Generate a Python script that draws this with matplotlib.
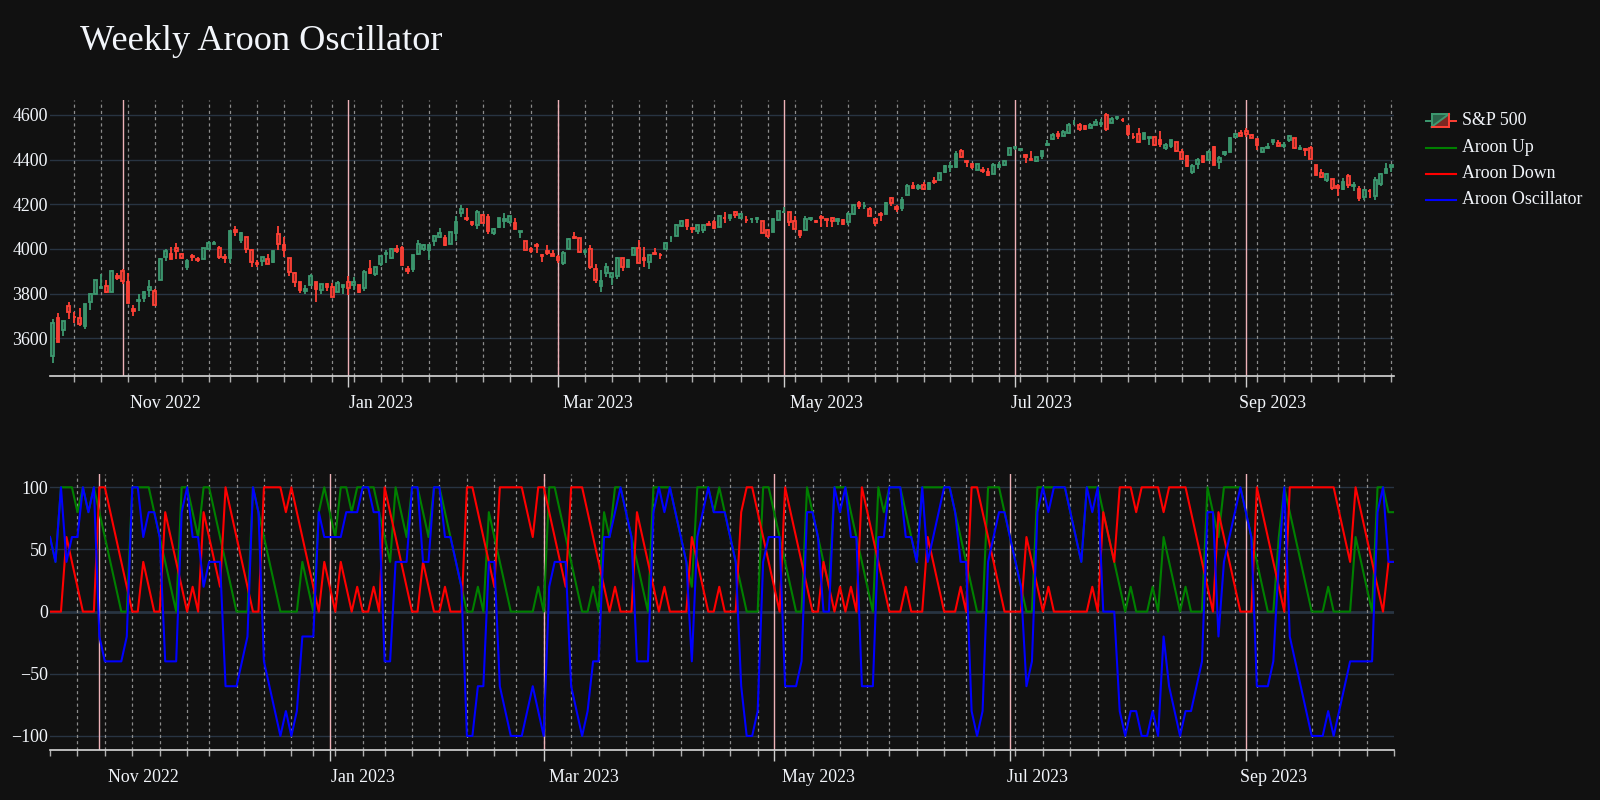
import numpy as np
import pandas as pd
import matplotlib
matplotlib.use("Agg")
import matplotlib.pyplot as plt
from matplotlib.lines import Line2D
from matplotlib.patches import Polygon
from matplotlib.transforms import blended_transform_factory

plt.rcParams['font.family'] = ['Liberation Serif', 'DejaVu Serif']

# ---------------- data ----------------
holidays = ['2022-11-24', '2022-12-26', '2023-01-02', '2023-01-16', '2023-02-20',
            '2023-04-07', '2023-05-29', '2023-06-19', '2023-07-04', '2023-09-04']
dates = pd.bdate_range('2022-10-13', '2023-10-11', freq='C', holidays=holidays)

opens = [3520,3690,3638,3746,3696,3689,3657,3762,3799,3825,3834,3808,3881,
 3901,3853,3733,3767,3780,3817,3810,3859,3964,3977,4006,3976,3919,3966,3957,3956,4000,4023,4005,3964,3958,
 4087,4041,4052,3996,3934,3947,3954,3940,4069,4016,3958,3891,3853,3810,3839,3853,3816,3843,3829,3805,3830,
 3853,3840,3840,3823,3910,3888,3932,3977,3960,3999,4003,3911,3910,3978,4001,3997,4036,4053,4049,4020,
 4071,4159,4136,4119,4105,4153,4144,4073,4097,4126,4119,4115,4078,4036,4001,4018,3973,3993,3977,
 3964,3938,3998,4055,4048,3988,3999,3912,3835,3894,3876,3879,3958,3917,3975,4002,3959,3940,3983,3975,3999,4047,4056,
 4102,4128,4094,4082,4085,4111,4121,4100,4140,4137,4164,4140,4131,4132,4132,4126,4087,4075,4129,
 4166,4164,4123,4082,4084,4136,4125,4143,4132,4138,4127,4128,4122,4157,4204,4191,4177,4133,4155,4156,4226,4190,
 4183,4241,4282,4271,4285,4268,4305,4308,4346,4366,4366,4440,4396,4380,4355,4354,4344,4337,4367,4378,4422,
 4450,4442,4422,4405,4395,4415,4467,4492,4514,4508,4521,4563,4554,4550,4543,4556,4558,4598,4565,4585,
 4579,4551,4502,4513,4491,4498,4502,4487,4451,4459,4479,4433,4416,4344,4380,4416,4397,4456,4389,4426,4433,4500,4518,
 4530,4510,4491,4434,4451,4480,4473,4462,4487,4497,4446,4445,4453,4374,4341,4310,4313,4282,4269,4328,
 4284,4269,4233,4259,4235,4289,4339,4366]

highs = [3685,3712,3677,3762,3719,3736,3753,3799,3862,3887,3859,3905,3893,
 3911,3894,3750,3796,3813,3860,3819,3958,4001,4008,4028,3983,3954,3979,3962,4004,4034,4035,4013,3976,4080,
 4101,4077,4053,4001,3951,3966,3978,3990,4101,4053,3959,3895,3854,3838,3889,3853,3845,3846,3849,3858,3840,
 3879,3873,3840,3906,3951,3919,3970,3997,4003,4016,4015,3923,3973,4039,4023,4020,4061,4095,4063,4077,
 4148,4196,4183,4124,4176,4157,4156,4095,4138,4159,4148,4137,4081,4036,4008,4028,3978,4018,3997,
 3971,3990,4048,4078,4050,4001,4017,3934,3905,3937,3894,3964,3959,3956,4009,4039,4007,3972,4003,3980,4030,4057,4110,
 4128,4134,4100,4107,4109,4125,4128,4150,4164,4152,4169,4162,4148,4138,4143,4126,4089,4138,4170,
 4187,4165,4149,4083,4147,4143,4131,4154,4133,4143,4137,4135,4165,4202,4213,4209,4186,4136,4166,4212,4231,4195,
 4232,4290,4300,4289,4299,4298,4322,4340,4375,4391,4439,4448,4400,4387,4382,4367,4363,4384,4390,4398,4458,
 4456,4454,4423,4440,4412,4440,4489,4517,4528,4532,4562,4578,4565,4555,4563,4580,4583,4607,4590,4595,
 4585,4551,4519,4540,4519,4503,4503,4527,4476,4490,4479,4449,4421,4381,4407,4418,4443,4459,4418,4440,4500,4521,4532,
 4541,4514,4491,4457,4473,4490,4488,4479,4511,4498,4466,4451,4462,4375,4357,4338,4314,4292,4317,4334,
 4300,4281,4268,4267,4324,4341,4385,4378]

lows = [3491,3582,3610,3687,3667,3656,3640,3727,3799,3825,3803,3808,3863,
 3843,3758,3698,3722,3764,3787,3748,3859,3944,3957,3953,3955,3907,3944,3940,3956,3999,4020,3956,3937,3939,
 4058,4027,3984,3918,3917,3923,3934,3936,3994,3965,3879,3828,3802,3796,3839,3764,3798,3813,3783,3805,3800,
 3795,3815,3802,3810,3890,3877,3924,3937,3955,3984,3926,3886,3898,3972,3990,3949,4013,4048,4015,4020,
 4037,4142,4124,4104,4088,4117,4069,4061,4092,4096,4113,4089,4048,3997,3981,3983,3943,3973,3968,
 3939,3928,3995,4044,3980,3974,3908,3847,3809,3873,3838,3864,3901,3917,3972,3936,3919,3910,3971,3956,3999,4033,4056,
 4100,4086,4073,4069,4072,4106,4091,4100,4114,4124,4140,4135,4114,4114,4114,4071,4049,4075,4127,
 4161,4101,4088,4048,4084,4125,4116,4099,4099,4099,4105,4109,4109,4154,4180,4180,4146,4104,4125,4156,4192,4166,
 4171,4241,4267,4264,4263,4266,4291,4304,4338,4345,4363,4408,4367,4360,4352,4341,4328,4336,4361,4371,4422,
 4442,4437,4385,4397,4389,4402,4463,4489,4493,4505,4514,4557,4527,4532,4541,4553,4547,4528,4563,4577,
 4567,4505,4491,4474,4491,4464,4462,4457,4443,4453,4432,4403,4365,4335,4360,4383,4396,4375,4356,4415,4432,4496,4507,
 4501,4496,4443,4430,4448,4467,4461,4453,4479,4447,4442,4416,4402,4329,4316,4302,4265,4239,4265,4274,
 4260,4216,4220,4226,4219,4284,4339,4345]

closes = [3669,3583,3677,3719,3695,3666,3752,3797,3859,3830,3807,3901,3872,
 3856,3760,3720,3771,3807,3828,3749,3956,3993,3957,3992,3959,3947,3965,3950,4003,4028,4027,3964,3958,4080,
 4076,4072,3999,3941,3934,3963,3934,3990,4020,3995,3895,3852,3817,3821,3878,3822,3845,3829,3783,3849,3840,
 3825,3853,3808,3895,3893,3919,3970,3983,3999,3991,3928,3899,3973,4020,4017,4016,4060,4071,4017,4077,
 4120,4180,4136,4111,4164,4118,4082,4090,4137,4136,4148,4090,4079,3997,3991,4012,3970,3982,3970,
 3951,3981,4045,4048,3986,3992,3918,3862,3855,3920,3892,3960,3917,3951,4003,3937,3949,3971,3977,3971,4028,4051,4109,
 4125,4101,4091,4105,4109,4109,4092,4146,4138,4152,4154,4155,4130,4133,4138,4071,4056,4136,4169,
 4167,4119,4091,4061,4136,4138,4119,4137,4131,4124,4136,4110,4158,4198,4192,4192,4146,4116,4151,4205,4206,4180,
 4221,4282,4273,4284,4268,4294,4299,4338,4370,4373,4426,4410,4389,4366,4382,4349,4329,4378,4377,4396,4450,
 4455,4447,4411,4399,4410,4439,4472,4510,4505,4522,4555,4565,4535,4536,4554,4567,4566,4537,4582,4589,
 4577,4513,4502,4478,4518,4499,4467,4468,4464,4490,4437,4404,4370,4370,4399,4388,4436,4376,4406,4433,4498,4515,4508,
 4516,4497,4465,4451,4457,4488,4462,4467,4505,4450,4454,4444,4402,4330,4320,4337,4274,4275,4300,4288,
 4288,4229,4263,4258,4308,4336,4358,4376]

# Aroon values start at the 5th trading day (first complete window)
aroon_start = 4
aroon_up = [60,40,100,100,100,80,100,80,100,80,
 60,40,20,0,0,100,100,100,100,80,
 60,40,20,0,100,100,80,60,100,100,
 80,60,40,20,0,0,0,100,80,60,
 40,20,0,0,0,0,40,20,0,80,
 100,80,60,100,100,80,100,100,100,100,
 80,60,40,100,80,60,100,100,80,60,
 100,100,80,60,40,20,0,0,20,0,
 80,60,40,20,0,0,0,0,0,20,
 0,100,100,80,60,40,20,0,0,20,
 0,80,60,100,100,80,60,40,20,0,
 100,100,100,100,80,60,40,20,100,100,
 100,80,100,80,60,40,20,0,0,0,
 100,100,80,60,40,20,0,0,100,80,
 60,40,20,100,100,100,80,60,40,20,
 0,100,80,100,100,100,80,60,40,100,
 100,100,100,100,100,80,60,40,20,0,
 0,100,100,100,80,60,40,20,0,0,
 100,100,100,100,100,100,80,60,40,100,
 100,100,80,60,40,20,0,20,0,0,
 0,20,0,60,40,20,0,20,0,0,
 0,100,80,60,100,100,100,100,80,60,
 40,20,0,0,60,100,80,60,40,20,
 0,0,0,20,0,0,0,0,60,40,
 20,0,100,100,80,80]

aroon_down = [0,0,0,60,40,20,0,0,0,100,
 100,80,60,40,20,0,0,40,20,0,
 0,80,60,40,20,0,20,0,80,60,
 40,20,100,80,60,40,20,0,0,100,
 100,100,100,80,100,80,60,40,20,0,
 40,20,0,40,20,0,20,0,0,20,
 0,100,80,60,40,20,0,0,40,20,
 0,0,20,0,0,0,100,100,80,60,
 40,20,100,100,100,100,100,80,60,100,
 100,80,60,40,20,100,100,100,80,60,
 40,20,0,20,0,0,0,80,60,40,
 20,0,20,0,0,0,0,60,40,20,
 0,0,20,0,0,0,80,100,100,80,
 60,40,20,0,100,80,60,40,20,0,
 0,40,20,0,20,0,20,0,100,80,
 60,40,20,0,0,0,20,0,0,0,
 60,40,20,0,0,0,20,0,100,100,
 80,60,40,20,0,0,0,0,60,40,
 20,0,20,0,0,0,0,0,0,0,
 20,0,80,60,40,100,100,100,80,100,
 100,100,100,80,100,100,100,100,80,60,
 40,20,0,80,60,40,20,0,0,0,
 100,80,60,40,20,0,100,100,100,100,
 100,100,100,100,100,80,60,40,100,80,
 60,40,20,0,40,40]

aroon_osc = [60,40,100,40,60,60,100,80,100,-20,
 -40,-40,-40,-40,-20,100,100,60,80,80,
 60,-40,-40,-40,80,100,60,60,20,40,
 40,40,-60,-60,-60,-40,-20,100,80,-40,
 -60,-80,-100,-80,-100,-80,-20,-20,-20,80,
 60,60,60,60,80,80,80,100,100,80,
 80,-40,-40,40,40,40,100,100,40,40,
 100,100,60,60,40,20,-100,-100,-60,-60,
 40,40,-60,-80,-100,-100,-100,-80,-60,-80,
 -100,20,40,40,40,-60,-80,-100,-80,-40,
 -40,60,60,80,100,80,60,-40,-40,-40,
 80,100,80,100,80,60,40,-40,60,80,
 100,80,80,80,60,40,-60,-100,-100,-80,
 40,60,60,60,-60,-60,-60,-40,80,80,
 60,0,0,100,80,100,60,60,-60,-60,
 -60,60,60,100,100,100,60,60,40,100,
 40,60,80,100,100,80,40,40,-80,-100,
 -80,40,60,80,80,60,40,20,-60,-40,
 80,100,80,100,100,100,80,60,40,100,
 80,100,0,0,0,-80,-100,-80,-80,-100,
 -100,-80,-100,-20,-60,-80,-100,-80,-80,-60,
 -40,80,80,-20,40,60,80,100,80,60,
 -60,-60,-60,-40,40,100,-20,-40,-60,-80,
 -100,-100,-100,-80,-100,-80,-60,-40,-40,-40,
 -40,-40,80,100,40,40]

price_ticks = [3600, 3800, 4000, 4200, 4400, 4600]
osc_ticks = [-100, -50, 0, 50, 100]
label_months = ['2022-11', '2023-01', '2023-03', '2023-05', '2023-07', '2023-09']

# ---------------- style ----------------
BG = '#111111'
GRID = '#283442'
FG = '#f2f5fa'
INC = '#3D9970'
DEC = '#FF4136'
PINK = '#eeb2b8'
DASH = '#8c8c8c'
FS = 12.9

W, H = 1600, 800
fig = plt.figure(figsize=(W / 100, H / 100), dpi=100, facecolor=BG)

def fbox(l, t, r, b):
    return [l / W, 1 - b / H, (r - l) / W, (b - t) / H]

ax1 = fig.add_axes(fbox(50, 100, 1394, 376))
ax2 = fig.add_axes(fbox(50, 474, 1394, 750))

n = len(dates)
x = np.arange(n)
o = np.array(opens, float); h = np.array(highs, float)
l = np.array(lows, float); c = np.array(closes, float)
up = c > o

def blend(hexc, a=0.5):
    rgb = np.array(matplotlib.colors.to_rgb(hexc))
    bg = np.array(matplotlib.colors.to_rgb(BG))
    return tuple(rgb * a + bg * (1 - a))

edge_cols = [INC if u else DEC for u in up]
face_cols = [blend(INC) if u else blend(DEC) for u in up]

xb = np.arange(aroon_start, aroon_start + len(aroon_up))

# week (Wednesday) lines and month start lines
wed_idx = x[dates.dayofweek == 2]
month_first = x[np.r_[True, dates.month[1:] != dates.month[:-1]]]
month_first = [i for i in month_first if dates[i].month in (11, 1, 3, 5, 7, 9)]
long_tick = [i for i in month_first if dates[i].month != 11]

ords = dates.map(pd.Timestamp.toordinal).values.astype(float)
label_pos = [np.interp(pd.Timestamp(m + '-11').toordinal(), ords, x) for m in label_months]
label_txt = [pd.Timestamp(m + '-01').strftime('%b %Y') for m in label_months]

ax1.set_xlim(-0.5, n - 0.5)
ax2.set_xlim(xb[0], xb[-1])

for ax, ylim, yt in ((ax1, (3431, 4667), price_ticks), (ax2, (-111.3, 110.7), osc_ticks)):
    ax.set_facecolor(BG)
    ax.set_ylim(*ylim)
    ax.set_yticks(yt)
    ax.set_yticklabels([f"{v}".replace('-', '\u2212') for v in yt], fontsize=FS, color=FG)
    ax.tick_params(axis='y', length=0, pad=1.5)
    for v in yt:
        ax.axhline(v, color=GRID, lw=2 if (ax is ax2 and v == 0) else 1, zorder=0)
    for s in ('left', 'right', 'top'):
        ax.spines[s].set_visible(False)
    ax.spines['bottom'].set_color('#d8d8d8')
    ax.spines['bottom'].set_linewidth(1.2)
    x0, x1 = ax.get_xlim()
    for i in wed_idx:
        if x0 + 0.2 < i < x1 - 0.2:
            ax.axvline(i, color=DASH, lw=0.9, ls=(0, (2.5, 2.5)), zorder=0.5)
    for i in month_first:
        ax.axvline(i, color=PINK, lw=1.0, zorder=0.6)
    ax.set_xticks(long_tick)
    ax.set_xticklabels([])
    ax.set_xticks(wed_idx, minor=True)
    ax.tick_params(axis='x', which='major', length=7.8, width=1, color='#cfcfcf')
    ax.tick_params(axis='x', which='minor', length=4.2, width=1, color='#b0b0b0')
    tr = blended_transform_factory(ax.transData, ax.transAxes)
    for p, t in zip(label_pos, label_txt):
        ax.text(p, -27 / 276, t, transform=tr, ha='center', va='center',
                fontsize=FS, color=FG)

# candles
ax1.vlines(x, l, h, colors=edge_cols, lw=1.3, zorder=2)
body_h = np.maximum(np.abs(c - o), 1.5)
ax1.bar(x, body_h, bottom=np.minimum(o, c), width=0.5, color=face_cols,
        edgecolor=edge_cols, linewidth=1.3, zorder=3)

# aroon
ax2.plot(xb, aroon_up, color='green', lw=1.5, zorder=3)
ax2.plot(xb, aroon_down, color='red', lw=1.5, zorder=4)
ax2.plot(xb, aroon_osc, color='blue', lw=1.5, zorder=5)

# title
fig.text(80 / W, 1 - 42 / H, 'Weekly Aroon Oscillator', fontsize=26.1, color=FG,
         ha='left', va='center')

# legend (drawn by hand)
def P(px, py):
    return (px / W, 1 - py / H)

dy = 2.5
bx0, bx1, by0, by1 = 1431.5, 1449, 111.5 + dy, 124.5 + dy
ym = 118 + dy
fig.add_artist(Polygon([P(bx0, by0), P(bx1, by0), P(bx0, by1)], closed=True,
                       transform=fig.transFigure, facecolor=blend(INC, 0.6), edgecolor='none'))
fig.add_artist(Polygon([P(bx1, by0), P(bx1, by1), P(bx0, by1)], closed=True,
                       transform=fig.transFigure, facecolor=blend(DEC, 0.45), edgecolor='none'))
for (xa, ya), (xe, ye), col in (((1426, ym), (bx0, ym), INC), ((bx0, by1), (bx0, by0), INC),
                                ((bx0, by0), (bx1, by0), INC), ((bx0, by1), (bx1, by0), INC),
                                ((bx1, by0), (bx1, by1), DEC), ((bx1, by1), (bx0, by1), DEC),
                                ((bx1, ym), (1456, ym), DEC)):
    fig.add_artist(Line2D([xa / W, xe / W], [1 - ya / H, 1 - ye / H], color=col, lw=1.4,
                          transform=fig.transFigure))
fig.text(1462 / W, 1 - ym / H, 'S&P 500', fontsize=FS, color=FG, va='center')
for yy, col, name in ((145 + dy, 'green', 'Aroon Up'), (171.5 + dy, 'red', 'Aroon Down'),
                      (197.5 + dy, 'blue', 'Aroon Oscillator')):
    fig.add_artist(Line2D([1426 / W, 1456 / W], [1 - yy / H, 1 - yy / H], color=col, lw=1.5,
                          transform=fig.transFigure))
    fig.text(1462 / W, 1 - yy / H, name, fontsize=FS, color=FG, va='center')

fig.savefig('out.png', dpi=100, facecolor=BG)
